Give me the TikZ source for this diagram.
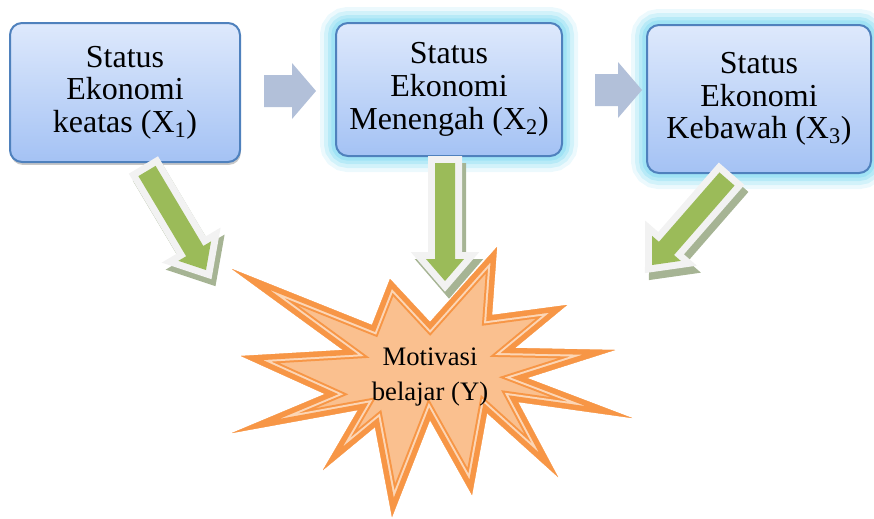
\documentclass[tikz,border=0pt]{standalone}
\usepackage{fontspec}
\setmainfont{Liberation Serif}
\usetikzlibrary{calc}
\definecolor{Btop}{RGB}{222,233,252}
\definecolor{Bbot}{RGB}{164,194,244}
\definecolor{Bline}{RGB}{79,129,189}
\definecolor{Glow}{RGB}{150,224,244}
\definecolor{Hfill}{RGB}{178,192,217}
\definecolor{Gfill}{RGB}{155,187,89}
\definecolor{Gedge}{RGB}{242,242,242}
\definecolor{Gshade}{RGB}{166,180,148}
\definecolor{Ofill}{RGB}{250,192,143}
\definecolor{Oline}{RGB}{247,150,70}
\definecolor{Olight}{RGB}{252,214,182}

% block arrow: options, from, to, shaft half width, head half width, head length
\newcommand\blockarrow[6]{%
  \coordinate (hb) at ($(#3)!#6!(#2)$);
  \path[#1] ($(#2)!#4!90:(#3)$) -- ($(hb)!#4!90:(#3)$) -- ($(hb)!#5!90:(#3)$) -- (#3)
    -- ($(hb)!#5!-90:(#3)$) -- ($(hb)!#4!-90:(#3)$) -- ($(#2)!#4!-90:(#3)$) -- cycle;}

\def\starpts{(232,269) -- (372,325) -- (390,279) -- (430,322) -- (497,247) -- (492,315)
  -- (567,305) -- (515,348) -- (615,350) -- (527,378) -- (632,418) -- (518,402)
  -- (558,477) -- (487,413) -- (472,495) -- (430,420) -- (392,517) -- (375,427)
  -- (323,470) -- (358,410) -- (232,433) -- (325,394) -- (241,356) -- (343,350) -- cycle}

\begin{document}
\begin{tikzpicture}[x=0.75pt,y=-0.75pt,line join=miter,
  box/.style={rectangle,rounded corners=9pt,draw=Bline,line width=1.5pt,top color=Btop,bottom color=Bbot,
    inner sep=0pt,align=center,font=\fontsize{24}{24.5}\selectfont},
  drop/.style={preaction={fill=black,opacity=0.22,transform canvas={xshift=0.6pt,yshift=-2.2pt}}},
  glow/.style={preaction={draw=Glow,line width=24pt,opacity=0.18},preaction={draw=Glow,line width=18pt,opacity=0.3},
    preaction={draw=Glow,line width=12pt,opacity=0.45},preaction={draw=Glow,line width=7pt,opacity=0.7}},
  harrow/.style={fill=Hfill},
  garrow/.style={fill=Gfill,preaction={fill=Gshade,draw=Gshade,line width=10.5pt,transform canvas={xshift=3pt,yshift=-5.25pt}},
    preaction={draw=Gedge,line width=10.5pt}}]
\useasboundingbox (0,0) rectangle (874,518);

% the three boxes
\node[box,drop,minimum width=172.5pt,minimum height=104.25pt] (x1) at (125,92.5) {Status\\Ekonomi\\keatas (X\textsubscript{1})};
\node[box,glow,minimum width=169.5pt,minimum height=99.75pt] (x2) at (449,89.5) {Status\\Ekonomi\\Menengah (X\textsubscript{2})};
\node[box,glow,minimum width=168pt,minimum height=111pt] (x3) at (759,99) {Status\\Ekonomi\\Kebawah (X\textsubscript{3})};

% arrows between boxes
\coordinate (h1s) at (264,91);
\coordinate (h1e) at (316,91);
\coordinate (h2s) at (595,90);
\coordinate (h2e) at (642,90);
\blockarrow{harrow}{h1s}{h1e}{12pt}{21pt}{18pt}
\blockarrow{harrow}{h2s}{h2e}{12pt}{21pt}{18pt}

% green arrows to Y
\coordinate (g1s) at (147,171);
\coordinate (g1e) at (206,270);
\coordinate (g2s) at (445,163);
\coordinate (g2e) at (445,281);
\coordinate (g3s) at (727,179);
\coordinate (g3e) at (652,265);
\blockarrow{garrow}{g1s}{g1e}{7.5pt}{14.25pt}{16.5pt}
\blockarrow{garrow}{g2s}{g2e}{7.5pt}{14.25pt}{16.5pt}
\blockarrow{garrow}{g3s}{g3e}{7.5pt}{14.25pt}{16.5pt}

% explosion
\begin{scope}
\clip \starpts;
\fill[Ofill] \starpts;
\draw[Oline,line width=14pt] \starpts;
\draw[Olight,line width=11pt] \starpts;
\draw[Oline,line width=8pt] \starpts;
\end{scope}
\node[font=\fontsize{20}{26.5}\selectfont,align=center] (y) at (430,377) {Motivasi\\belajar (Y)};
\end{tikzpicture}
\end{document}
